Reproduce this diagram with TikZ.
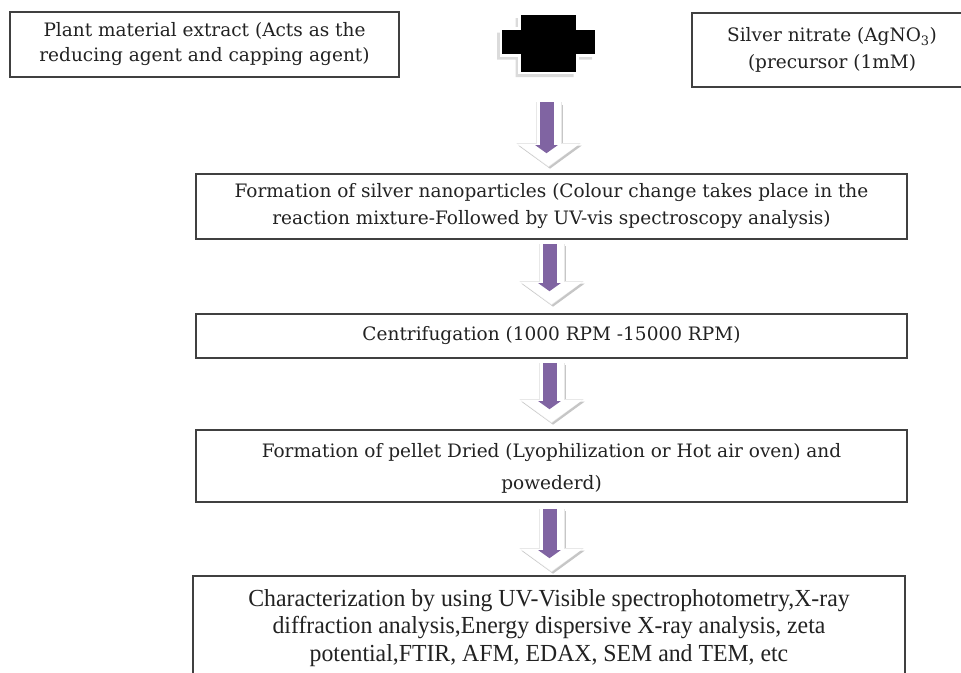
\documentclass[tikz,border=0pt]{standalone}
\usepackage{fontspec}
\setmainfont{DejaVu Serif}
\newfontfamily\charfont[FakeStretch=0.97]{Liberation Serif}
\usetikzlibrary{arrows.meta}

\definecolor{boxline}{RGB}{64,64,64}
\definecolor{arrowpurple}{RGB}{128,100,162}
\definecolor{textgray}{RGB}{34,34,34}

\tikzset{
  stepbox/.style={draw=boxline, line width=1.6pt, fill=white, align=center,
    inner sep=0pt, text=textgray, font=\fontsize{18.5}{27}\selectfont},
  arrowshadow/.style={draw=gray!45, line width=25pt,
    -{Triangle[length=23pt,width=62pt]},
    transform canvas={xshift=1.5pt,yshift=-2.5pt}},
  arrowrim/.style={draw=gray!18, line width=26pt,
    -{Triangle[length=24pt,width=63pt]}},
  arrowbody/.style={draw=white, line width=24pt,
    -{Triangle[length=22pt,width=60pt]}},
  arrowcore/.style={draw=arrowpurple, line width=14pt,
    -{Triangle[length=8pt,width=22pt]},
    transform canvas={xshift=-2pt}},
}

\begin{document}
\begin{tikzpicture}[x=1pt,y=-1pt]
\useasboundingbox (0,0) rectangle (961,672);
\clip (0,0) rectangle (961,672);

% top row
\node[stepbox, minimum width=389pt, minimum height=65pt,
  font=\fontsize{18.5}{25}\selectfont] (plant) at (204.5,44.5)
  {Plant material extract (Acts as the\\reducing agent and capping agent)};
\node[stepbox, minimum width=280pt, minimum height=74pt] (silver) at (832,50)
  {Silver nitrate (AgNO\textsubscript{3})\\(precursor (1mM)};
\node[minimum width=95pt, minimum height=59pt, inner sep=0pt] (plus) at (548.5,43.5) {};

% plus sign
\begin{scope}[shift={(plus.center)}]
\fill[gray!28] (-33,-25.5) -- (25,-25.5) -- (25,-11) -- (43.5,-11) -- (43.5,16) -- (25,16)
  -- (25,33.5) -- (-33,33.5) -- (-33,16) -- (-51.5,16) -- (-51.5,-11) -- (-33,-11) -- cycle;
\fill[black, draw=white, line width=2.5pt] (-29,-29.5) -- (29,-29.5) -- (29,-15) -- (47.5,-15)
  -- (47.5,12) -- (29,12) -- (29,29.5) -- (-29,29.5) -- (-29,12) -- (-47.5,12)
  -- (-47.5,-15) -- (-29,-15) -- cycle;
\end{scope}

% steps
\node[stepbox, minimum width=711pt, minimum height=65pt] (formation) at (551.5,206.5)
  {Formation of silver nanoparticles (Colour change takes place in the\\
   reaction mixture-Followed by UV-vis spectroscopy analysis)};
\node[stepbox, minimum width=711pt, minimum height=44pt] (centri) at (551.5,336)
  {Centrifugation (1000 RPM -15000 RPM)};
\node[stepbox, minimum width=711pt, minimum height=72pt, text depth=0pt] (pellet) at (551.5,466)
  {Formation of pellet Dried (Lyophilization or Hot air oven) and\\[5pt]powederd)};
\node[stepbox, minimum width=712pt, minimum height=104pt,
  font=\charfont\fontsize{24.5}{27.5}\selectfont] (charact) at (549,628)
  {Characterization by using UV-Visible spectrophotometry,X-ray\\
   diffraction analysis,Energy dispersive X-ray analysis, zeta\\
   potential,FTIR, AFM, EDAX, SEM and TEM, etc};

% arrows
\foreach \a/\b/\s/\e in {plus/formation/29/7, formation/centri/4/9,
                         centri/pellet/4/7, pellet/charact/6/4} {
  \draw[arrowshadow, shorten <=\s pt, shorten >=\e pt] (\a.south) -- (\a.south |- \b.north);
  \draw[arrowrim, shorten <=\s pt, shorten >=\e pt-1pt] (\a.south) -- (\a.south |- \b.north);
  \draw[arrowbody, shorten <=\s pt, shorten >=\e pt] (\a.south) -- (\a.south |- \b.north);
  \draw[arrowcore, shorten <=\s pt, shorten >=\e pt+13pt] (\a.south) -- (\a.south |- \b.north);
}
\end{tikzpicture}
\end{document}
